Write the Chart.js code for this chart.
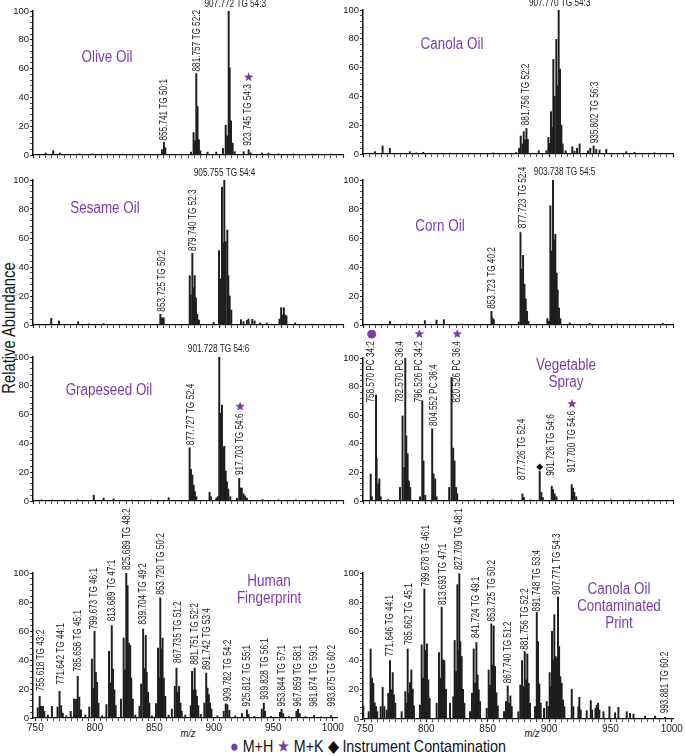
<!DOCTYPE html>
<html>
<head>
<meta charset="utf-8">
<script src="https://cdn.jsdelivr.net/npm/chart.js@4.4.1/dist/chart.umd.min.js"></script>
<style>
    body {
        margin: 0;
        width: 685px;
        height: 756px;
        position: relative;
        overflow: hidden;
        background: #fff;
        font-family: 'Liberation Sans', Arial, sans-serif;
        color: #111;
    }
    canvas { position: absolute; }
    .title {
        position: absolute;
        color: #7a3da8;
        font-size: 16px;
        line-height: 17px;
        text-align: center;
        white-space: nowrap;
        transform: translate(-50%, -50%) scaleX(0.84);
    }
    #yTitle {
        position: absolute;
        left: 9px;
        top: 328px;
        font-size: 18px;
        white-space: nowrap;
        transform: translate(-50%, -50%) rotate(-90deg) scaleX(0.82);
    }
    .mz {
        position: absolute;
        font-size: 11px;
        font-style: italic;
        transform: translate(-50%, -50%) scaleX(0.85);
    }
    #legend {
        position: absolute;
        left: 368px;
        top: 746px;
        font-size: 17px;
        white-space: nowrap;
        transform: translate(-50%, -50%) scaleX(0.84);
    }
    #legend .p { color: #7a3da8; }
</style>
</head>
<body>
<div id="yTitle">Relative Abundance</div>
<div class="mz" style="left:188px;top:733px">m/z</div>
<div class="mz" style="left:532px;top:733px">m/z</div>
<div id="legend"><span class="p">●</span> M+H <span class="p">★</span> M+K <span>◆</span> Instrument Contamination</div>

<script>
const FONT = "'Liberation Sans', Arial, sans-serif";
const PURPLE = '#7a3da8';
const SQUEEZE = 0.82; // 細字体の代わりに横方向を圧縮

// 目盛り
const xTickLabels = [750, 800, 850, 900, 950, 1000];
const yTickLabels = [0, 20, 40, 60, 80, 100];

// Olive Oil
const oliveMz = [760.2, 766.3, 771.7, 787.5, 798.2, 809.5, 822, 838, 854.0, 855.6, 856.7, 877.4, 879.5, 880.6, 881.7, 882.7, 883.8, 884.9, 890.8, 897.8, 903.2, 905.4, 906.5, 907.8, 908.6, 909.7, 911.0, 912.6, 919.9, 923.9, 925.5, 934.6, 940.0, 948, 960, 975, 990];
const oliveInt = [1.4, 3, 1.4, 0.8, 0.8, 0.6, 0.6, 0.6, 3.7, 8.7, 5, 2, 15.6, 10, 56.6, 33.6, 10.6, 3, 2, 2, 4.6, 20.7, 13.3, 100, 60.5, 23.7, 8.3, 2.3, 2.3, 3.7, 1.5, 1.4, 1.4, 0.8, 0.7, 0.7, 0.6];
const oliveLabels = [
    ['855.741 TG 50:1', 855.6, 10, 'v'],
    ['881.757 TG 52:2', 882.8, 58, 'v'],
    ['907.772 TG 54:3', 913.1, 101.2, 'h'],
    ['923.745 TG 54:3', 923.9, 6.4, 'v', 'star']
];

// Canola Oil
const canolaMz = [759.7, 765.8, 771.7, 787.8, 793, 798.6, 820, 855, 873.5, 875.9, 877.2, 878.6, 879.6, 880.7, 881.8, 882.9, 891.7, 897.9, 899.5, 900.6, 901.6, 902.7, 903.5, 904.6, 905.9, 906.7, 907.8, 908.9, 910.0, 911.0, 913.4, 918.8, 920.5, 922.6, 924.7, 931.4, 933.3, 936.0, 938.1, 940.8, 946.2, 962.3, 969, 985];
const canolaInt = [1.6, 5.6, 3.9, 1.6, 0.8, 1.2, 0.6, 0.8, 1, 4, 12.5, 7, 15.5, 9.7, 17.8, 10.2, 2.3, 2.3, 11.6, 7.4, 29.4, 18.5, 65.7, 40, 79.6, 47.2, 100, 59, 20, 7, 2.3, 5, 2, 4, 7, 2.3, 4, 5.6, 3.2, 2.8, 3.2, 1.6, 1.2, 0.8];
const canolaLabels = [
    ['881.756 TG 52:2', 882.0, 20, 'v'],
    ['907.770 TG 54:3', 908.6, 101.5, 'h'],
    ['935.802 TG 56:3', 937.3, 7.4, 'v']
];

// Sesame Oil
const sesameMz = [764.7, 770.9, 786.4, 795, 807, 825, 852.7, 854.1, 855.4, 876.4, 877.2, 878.5, 879.6, 880.4, 881.4, 882.5, 883.8, 895.7, 900.0, 901.1, 902.4, 903.2, 904.3, 905.3, 906.7, 907.5, 908.6, 909.9, 917.7, 919.8, 922.5, 923.8, 926.8, 928.7, 933.2, 938.6, 948.8, 950.1, 951.2, 952.3, 953.3, 954.4, 961.4, 975];
const sesameInt = [4.6, 2.8, 2.3, 0.8, 1, 0.6, 7.4, 5, 5, 34, 20.7, 49.4, 25.7, 34, 18.6, 7.4, 3.4, 1.8, 51.3, 31.7, 95, 56.6, 100, 57.5, 65.5, 34, 20, 10.3, 3.7, 2.3, 3.2, 4.1, 3.9, 2.8, 1.4, 1.4, 4.1, 11.9, 6.9, 11.9, 6.9, 6.4, 1.4, 0.6];
const sesameLabels = [
    ['853.725 TG 50:2', 854.1, 9.2, 'v'],
    ['879.740 TG 52:3', 879.6, 51, 'v'],
    ['905.755 TG 54:4', 904.5, 101.1, 'h']
];

// Corn Oil
const cornMz = [771.7, 785, 799.9, 809.3, 815.2, 830, 853.6, 854.4, 855.5, 875.6, 877.0, 878.0, 879.1, 880.2, 881.2, 882.3, 883.4, 898.7, 900.0, 901.1, 902.2, 903.2, 904.1, 905.1, 906.2, 907.0, 908.1, 909.2, 916.7, 932.8, 955, 991.8];
const cornInt = [2.5, 0.8, 3, 3.4, 3.7, 0.7, 9.4, 4.8, 3.7, 2, 63.8, 38.5, 48, 28.2, 18.1, 9.4, 2.5, 4.4, 2.5, 82.3, 51.1, 100, 58.7, 62.6, 35.8, 24, 11.7, 4.4, 1.4, 1.1, 0.7, 1.1];
const cornLabels = [
    ['853.723 TG 40:2', 853.9, 11.2, 'v'],
    ['877.723 TG 52:4', 879.1, 66.7, 'v'],
    ['903.738 TG 54:5', 912.6, 101.6, 'h']
];

// Grapeseed Oil
const grapeMz = [757, 765, 775, 786, 799.0, 807, 815, 830, 845, 859.4, 876.3, 877.4, 878.5, 879.6, 880.6, 881.7, 892.4, 893.5, 897.8, 899, 900.2, 901.1, 902.4, 903.2, 904.3, 905.4, 906.4, 907.5, 909.1, 914.4, 916.3, 917.4, 918.4, 919.8, 921.1, 922.5, 935, 948, 962, 978, 992];
const grapeInt = [0.8, 0.7, 0.6, 0.8, 4, 2, 1.5, 0.7, 0.8, 2.3, 37, 22, 18, 11, 6.5, 3, 6, 3, 2, 3, 100, 61, 66.5, 37, 38, 20.8, 13.4, 8.3, 3, 2, 15.7, 9, 9, 5, 3.5, 2, 1, 0.8, 0.8, 0.7, 0.6];
const grapeLabels = [
    ['877.727 TG 52:4', 877.7, 38.8, 'v'],
    ['901.728 TG 54:6', 899.7, 101.6, 'h'],
    ['917.703 TG 54:6', 917.0, 18, 'v', 'star']
];

// Vegetable Spray
const vegMz = [756.2, 757.2, 760.5, 761.0, 762.3, 763.2, 764.3, 770, 779.8, 781.9, 783.3, 784.1, 784.9, 786.0, 787.0, 788.1, 796.0, 797.8, 798.8, 800.2, 805.8, 806.9, 808.2, 809.3, 819.5, 821.4, 822.7, 823.8, 825.1, 826.0, 840, 855, 870, 878.6, 879.7, 885, 892.5, 893.8, 895, 902.2, 903.3, 904.6, 906, 918.3, 919.4, 920.4, 922, 935, 950, 965, 980, 995];
const vegInt = [18.8, 3, 74, 30, 12, 15.5, 3, 1, 9.5, 59.5, 23.5, 100, 45.5, 33, 14, 9.5, 3, 70, 28, 4, 50.5, 19, 15.5, 3, 9.5, 86.5, 37, 28, 9.5, 5, 0.8, 0.8, 0.8, 5, 2.5, 0.8, 20.7, 6, 2.5, 10.3, 8, 5, 3, 11.5, 9, 6, 3, 0.8, 0.8, 0.7, 0.7, 0.6];
const vegLabels = [
    ['758.570 PC 34:2', 757.0, 68.8, 'v', 'circle'],
    ['782.570 PC 36:4', 779.8, 68.8, 'v'],
    ['796.526 PC 34:2', 795.4, 68.8, 'v', 'star'],
    ['804.552 PC 36:4', 807.4, 52.5, 'v'],
    ['820.526 PC 36:4', 826.0, 68.8, 'v', 'star'],
    ['877.726 TG 52:4', 878.6, 14.6, 'v'],
    ['', 892.5, 23.7, 'v', 'diamond'],
    ['901.726 TG 54:6', 902.2, 17.6, 'v'],
    ['917.700 TG 54:6', 918.5, 20, 'v', 'star']
];

// Human Fingerprint
const fpMz = [752.0, 753.6, 754.7, 756.4, 757.5, 763.9, 768.6, 770.3, 771.7, 773.0, 779.7, 782.5, 784.2, 785.6, 786.9, 788.3, 795.3, 797.5, 798.6, 799.7, 800.8, 801.9, 803.0, 809.7, 811.9, 813.1, 814.2, 815.3, 816.4, 817.5, 821.9, 824.2, 825.3, 826.4, 827.5, 828.6, 829.7, 830.6, 831.9, 837.5, 838.9, 840.6, 841.7, 842.8, 843.6, 844.7, 845.8, 851.4, 853.1, 853.9, 855.0, 856.1, 856.9, 858.0, 859.2, 864.7, 867.2, 868.6, 869.7, 870.8, 872.0, 873.0, 880.6, 881.7, 882.8, 883.9, 884.7, 885.8, 886.9, 892.0, 893.6, 894.7, 895.8, 896.9, 898.0, 908.3, 910.0, 911.4, 913.0, 923.6, 927.8, 929.2, 940.3, 942.0, 943.0, 955.6, 956.9, 958.3, 969.4, 970.8, 972.2, 984.2, 998.6, 760.5, 776, 792, 806, 834, 848, 862, 876, 889, 903, 918, 934, 948, 963, 977, 990];
const fpInt = [7, 15, 8, 8, 4.6, 8, 7.6, 18.4, 8.5, 3.4, 4.6, 13, 13, 28.7, 14.5, 5.7, 7.6, 40.7, 20.7, 59.8, 31.5, 24.6, 10.3, 9.2, 46, 24.1, 63.7, 33.8, 19.5, 8.5, 13, 55.2, 33.3, 100, 91.3, 51.7, 50.1, 27.6, 13, 8, 23.4, 61.4, 34, 57, 31.5, 17.7, 10.3, 9.9, 48.3, 27.6, 82.8, 47.6, 55.2, 27.6, 15, 6.2, 21.8, 34.5, 17.7, 21.8, 10.3, 4.6, 8.5, 32.2, 19.5, 34.5, 19.5, 15, 8.5, 10.3, 31, 20.7, 16.1, 10.3, 6.2, 4.6, 9.7, 9.2, 5.3, 3, 5.7, 2.3, 6.2, 10.3, 4.6, 3.9, 6.2, 3, 4.6, 6.2, 3, 1.6, 1.6, 2, 1.5, 2, 1.5, 2, 1.5, 2, 2, 2.5, 1.5, 1.5, 1.2, 1.2, 1, 1, 0.8];
const fpLabels = [
    ['755.618 TG 43:2', 754.7, 18.4, 'v'],
    ['771.642 TG 44:1', 771.4, 23, 'v'],
    ['785.658 TG 45:1', 786.4, 32, 'v'],
    ['799.673 TG 46:1', 799.4, 61, 'v'],
    ['813.689 TG 47:1', 814.4, 66.7, 'v'],
    ['825.689 TG 48:2', 826.9, 102, 'v'],
    ['839.704 TG 49:2', 840.8, 64.4, 'v'],
    ['853.720 TG 50:2', 855.6, 85, 'v'],
    ['867.735 TG 51:2', 869.7, 38, 'v'],
    ['881.751 TG 52:2', 884.7, 36.8, 'v'],
    ['891.742 TG 53:4', 894.7, 33.3, 'v'],
    ['909.782 TG 54:2', 912.5, 11.5, 'v'],
    ['925.812 TG 55:1', 928.1, 8, 'v'],
    ['939.828 TG 56:1', 943.1, 12.6, 'v'],
    ['953.844 TG 57:1', 957.5, 8, 'v'],
    ['967.859 TG 58:1', 970.8, 8, 'v'],
    ['981.874 TG 59:1', 984.2, 8, 'v'],
    ['993.875 TG 60:2', 999.2, 8, 'v']
];

// Canola Oil Contaminated Print
const cpMz = [748.6, 753.0, 754.6, 755.7, 756.8, 757.9, 759.0, 760.0, 762.8, 764.4, 765.8, 767.7, 769.0, 770.4, 771.7, 772.6, 773.6, 774.7, 779.9, 782.9, 784.0, 784.8, 785.9, 786.7, 787.8, 788.9, 789.9, 794.8, 796.2, 797.3, 798.4, 799.5, 800.5, 801.6, 802.7, 808.4, 810.3, 811.4, 812.5, 813.6, 814.7, 816.0, 819.3, 822.0, 823.1, 824.2, 825.3, 826.1, 826.9, 827.7, 828.8, 829.9, 831.0, 835.6, 837.2, 838.6, 839.7, 840.8, 841.8, 842.7, 843.8, 849.2, 850.8, 851.9, 853.0, 854.1, 854.9, 856.0, 857.1, 858.2, 863.3, 864.9, 866.3, 867.4, 868.5, 869.6, 875.0, 876.6, 878.0, 879.1, 880.2, 881.3, 882.3, 883.4, 884.5, 888.6, 890.0, 891.0, 892.1, 893.2, 895.9, 898.1, 899.5, 900.5, 901.6, 902.4, 903.5, 904.3, 905.4, 906.5, 907.3, 908.2, 909.2, 910.3, 911.4, 912.5, 918.5, 919.8, 923.9, 924.7, 925.8, 930.7, 934.0, 935.1, 937.8, 938.9, 940.0, 941.0, 944.3, 949.2, 953.8, 956.5, 963.3, 966.0, 968.8, 978.3, 986.4, 994.6];
const cpInt = [9, 5, 48, 28, 24.5, 11.2, 8.5, 5, 8.5, 21.7, 8.5, 6.2, 17.6, 40, 20, 31.8, 16.5, 10.8, 5, 18.8, 10.8, 48, 17.6, 25, 33.6, 20.4, 9, 9.6, 50.8, 28, 89, 47, 51.5, 26.8, 14.2, 10.8, 45.5, 28, 76.7, 40.5, 40, 20.4, 10.8, 15.3, 53.8, 32.5, 92, 47.4, 99.5, 53, 42.8, 20.4, 10.8, 5, 17.6, 48, 24.5, 52.4, 30.2, 20, 12, 7.3, 33.6, 23.3, 65.2, 37, 63.8, 36, 18, 9, 5, 12, 22.7, 10.8, 15.8, 8.5, 5, 23.3, 40, 22.2, 46.2, 26.8, 44.6, 24.5, 10.8, 8.5, 73, 53, 24, 10.8, 7.3, 12, 8.5, 31.8, 22.2, 60, 40.5, 71.4, 42.8, 41.6, 83.5, 49.7, 29, 24.5, 13, 8.5, 20.4, 8.5, 8.5, 14.9, 6.2, 5.7, 12.6, 6.2, 7.3, 9.6, 10.8, 6.2, 5, 8.5, 4.3, 8, 5, 3.9, 3.4, 2, 2, 1.1];
const cpLabels = [
    ['771.646 TG 44:1', 770.9, 42.8, 'v'],
    ['785.662 TG 45:1', 785.9, 50.8, 'v'],
    ['799.678 TG 46:1', 799.7, 90.8, 'v'],
    ['813.693 TG 47:1', 813.9, 78, 'v'],
    ['827.709 TG 48:1', 826.9, 102, 'v'],
    ['841.724 TG 49:1', 841.0, 55.4, 'v'],
    ['853.725 TG 50:2', 854.1, 66.8, 'v'],
    ['867.740 TG 51:2', 866.8, 24.5, 'v'],
    ['881.756 TG 52:2', 880.4, 47.4, 'v'],
    ['891.748 TG 53:4', 890.5, 73.7, 'v'],
    ['907.771 TG 54:3', 906.8, 85, 'v'],
    ['993.881 TG 60:2', 994.6, 3.9, 'v']
];

// パネル配置
const panels = [
    { title: 'Olive Oil', tx: 107, ty: 56, mz: oliveMz, ab: oliveInt, labels: oliveLabels, col: 0, top: 11, bottom: 155, left: 33, right: 343, cTop: 0 },
    { title: 'Canola Oil', tx: 452, ty: 43, mz: canolaMz, ab: canolaInt, labels: canolaLabels, col: 340, top: 10, bottom: 154, left: 363, right: 673, cTop: 0 },
    { title: 'Sesame Oil', tx: 105, ty: 207, mz: sesameMz, ab: sesameInt, labels: sesameLabels, col: 0, top: 180, bottom: 325, left: 33, right: 343, cTop: 160 },
    { title: 'Corn Oil', tx: 440, ty: 225, mz: cornMz, ab: cornInt, labels: cornLabels, col: 340, top: 180, bottom: 325, left: 363, right: 673, cTop: 160 },
    { title: 'Grapeseed Oil', tx: 109, ty: 389, mz: grapeMz, ab: grapeInt, labels: grapeLabels, col: 0, top: 357, bottom: 501, left: 33, right: 343, cTop: 330 },
    { title: 'Vegetable<br>Spray', tx: 566, ty: 373, mz: vegMz, ab: vegInt, labels: vegLabels, col: 340, top: 358, bottom: 501, left: 363, right: 673, cTop: 330 },
    { title: 'Human<br>Fingerprint', tx: 269, ty: 589, mz: fpMz, ab: fpInt, labels: fpLabels, col: 0, top: 573, bottom: 718, left: 33, right: 340, cTop: 498, xMin: 748, xMax: 1004, bottomRow: true },
    { title: 'Canola Oil<br>Contaminated<br>Print', tx: 619, ty: 605, mz: cpMz, ab: cpInt, labels: cpLabels, col: 340, top: 573, bottom: 719, left: 363, right: 673, cTop: 498, xMin: 748.4, xMax: 1001, bottomRow: true }
];

const xMinor = [];
for (let v = 750; v <= 1000; v += 5) xMinor.push(v);
const yMinor = [];
for (let v = 0; v <= 100; v += 4) yMinor.push(v);

// マーカー描画
function drawMark(ctx, kind, x, y) {
    ctx.save();
    if (kind === 'star') {
        ctx.fillStyle = PURPLE;
        ctx.beginPath();
        for (let i = 0; i < 10; i++) {
            const r = i % 2 === 0 ? 5 : 2.1;
            const a = -Math.PI / 2 + i * Math.PI / 5;
            ctx.lineTo(x + r * Math.cos(a), y + r * Math.sin(a));
        }
        ctx.closePath();
        ctx.fill();
    } else if (kind === 'circle') {
        ctx.fillStyle = PURPLE;
        ctx.beginPath();
        ctx.arc(x, y, 4.5, 0, Math.PI * 2);
        ctx.fill();
    } else if (kind === 'diamond') {
        ctx.fillStyle = '#111';
        ctx.beginPath();
        ctx.moveTo(x, y - 3.5);
        ctx.lineTo(x + 3.5, y);
        ctx.lineTo(x, y + 3.5);
        ctx.lineTo(x - 3.5, y);
        ctx.closePath();
        ctx.fill();
    }
    ctx.restore();
}

// ピークラベル
function peakLabelPlugin(items) {
    return {
        id: 'peakLabels',
        afterDatasetsDraw(chart) {
            const { ctx, scales: { x, y } } = chart;
            ctx.save();
            ctx.fillStyle = '#1a1a1a';
            ctx.font = `10px ${FONT}`;
            items.forEach(([text, mz, at, dir, mark]) => {
                const px = x.getPixelForValue(mz);
                const py = y.getPixelForValue(at);
                let w = 0;
                if (text) {
                    w = ctx.measureText(text).width * SQUEEZE;
                    ctx.save();
                    ctx.translate(px, py);
                    if (dir === 'v') {
                        ctx.rotate(-Math.PI / 2);
                        ctx.scale(SQUEEZE, 1);
                        ctx.textAlign = 'left';
                        ctx.textBaseline = 'middle';
                    } else {
                        ctx.scale(SQUEEZE, 1);
                        ctx.textAlign = 'center';
                        ctx.textBaseline = 'bottom';
                        w = 0;
                    }
                    ctx.fillText(text, 0, 0);
                    ctx.restore();
                }
                if (mark) drawMark(ctx, mark, px, py - w - (text ? 7 : 0));
            });
            ctx.restore();
        }
    };
}

function makePanel(p) {
    const axisH = p.bottomRow ? 22 : 8;
    const canvas = document.createElement('canvas');
    const h = p.bottom - p.cTop + axisH;
    canvas.width = 345;
    canvas.height = h;
    canvas.style.left = p.col + 'px';
    canvas.style.top = p.cTop + 'px';
    canvas.style.width = '345px';
    canvas.style.height = h + 'px';
    document.body.appendChild(canvas);

    const t = document.createElement('div');
    t.className = 'title';
    t.innerHTML = p.title;
    t.style.left = p.tx + 'px';
    t.style.top = p.ty + 'px';
    document.body.appendChild(t);

    new Chart(canvas.getContext('2d'), {
        type: 'bar',
        data: {
            datasets: [{
                data: p.mz.map((m, i) => ({ x: m, y: p.ab[i] })),
                backgroundColor: '#1e1e1e',
                borderWidth: 0,
                barThickness: 1.3
            }]
        },
        options: {
            responsive: false,
            animation: false,
            devicePixelRatio: 1,
            layout: { padding: { top: p.top - p.cTop, left: 0, right: p.col + 345 - p.right, bottom: 0 } },
            plugins: { legend: { display: false }, tooltip: { enabled: false } },
            scales: {
                x: {
                    type: 'linear',
                    min: p.xMin ?? 750,
                    max: p.xMax ?? 1000,
                    offset: false,
                    afterBuildTicks: s => { s.ticks = xMinor.map(v => ({ value: v })); },
                    afterFit: s => { s.height = axisH; },
                    grid: {
                        offset: false,
                        drawOnChartArea: false,
                        tickLength: 3,
                        tickColor: '#222',
                        tickWidth: c => xTickLabels.includes(c.tick.value) ? 1.2 : 0.8
                    },
                    border: { color: '#111', width: 1.3 },
                    ticks: {
                        display: !!p.bottomRow,
                        autoSkip: false,
                        maxRotation: 0,
                        padding: 1,
                        color: '#222',
                        font: { family: FONT, size: 10 },
                        callback: v => xTickLabels.includes(v) ? String(v) : ''
                    }
                },
                y: {
                    min: 0,
                    max: 100,
                    afterBuildTicks: s => { s.ticks = yMinor.map(v => ({ value: v })); },
                    afterFit: s => { s.width = p.left - p.col; },
                    grid: {
                        drawOnChartArea: false,
                        tickLength: 3,
                        tickColor: '#222',
                        tickWidth: c => yTickLabels.includes(c.tick.value) ? 1.2 : 0.8
                    },
                    border: { color: '#111', width: 1.5 },
                    ticks: {
                        autoSkip: false,
                        padding: 1,
                        color: '#222',
                        font: { family: FONT, size: 9.5 },
                        callback: v => yTickLabels.includes(v) ? String(v) : ''
                    }
                }
            }
        },
        plugins: [peakLabelPlugin(p.labels)]
    });
}

panels.forEach(makePanel);
</script>
</body>
</html>
